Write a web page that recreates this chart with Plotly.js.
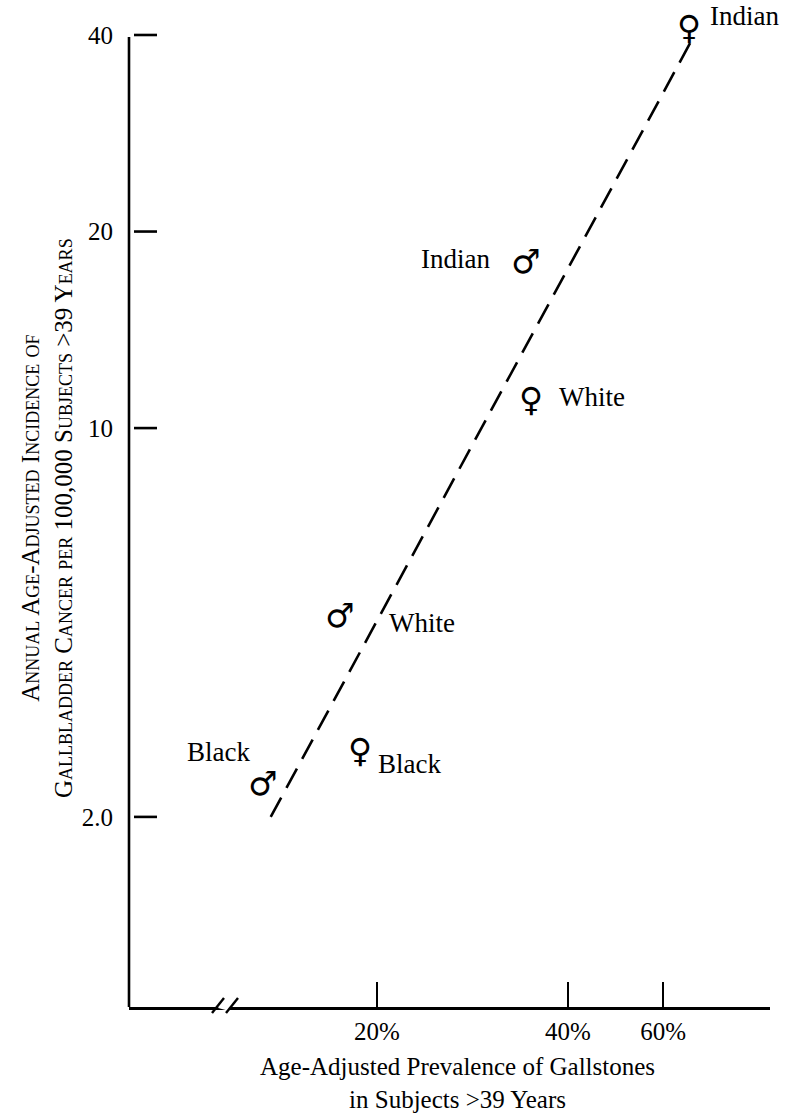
<!DOCTYPE html>
<html>
<head>
<meta charset="utf-8">
<script src="https://cdn.plot.ly/plotly-3.0.1.min.js"></script>
<style>html,body{margin:0;padding:0;background:#fff;}#chart{width:792px;height:1116px;}</style>
</head>
<body>
<div id="chart"></div>
<script>
// ---- data ----
const groups = ['Indian', 'Indian', 'White', 'White', 'Black', 'Black'];
const sexes = ['F', 'M', 'F', 'M', 'F', 'M'];
const prevalence = [67, 34, 35, 17.3, 18.8, 13.1];      // % with gallstones
const incidence = [42, 18, 11.3, 4.6, 2.7, 2.3];        // per 100,000
const fitPrevalence = [13.6, 68];
const fitIncidence = [2.0, 39.5];
const xTickVals = [20, 40, 60];
const xTickText = ['20%', '40%', '60%'];
const yTickVals = [2, 10, 20, 40];
const yTickText = ['2.0', '10', '20', '40'];

// ---- the figure's hand-drawn log scales (compressed beyond 40% and below 10) ----
const K = 0.852;
function tx(v) { const a = Math.log10(40), l = Math.log10(v); return l <= a ? l : a + K * (l - a); }
function ty(v) { const l = Math.log10(v); return l >= 1 ? l : 1 - K * (1 - l); }

const FONT = '"Liberation Serif", "Times New Roman", serif';
const GLYPH = '"DejaVu Sans", sans-serif';
const symbolOf = s => (s === 'F' ? '\u2640' : '\u2642');

// label placement (pixels, styling only)
const labelStyle = [
  {xshift: 19, yshift: 5, xanchor: 'left'},
  {xshift: -31, yshift: 2, xanchor: 'right'},
  {xshift: 26, yshift: -4, xanchor: 'left'},
  {xshift: 50, yshift: -7, xanchor: 'left'},
  {xshift: 16, yshift: -20, xanchor: 'left'},
  {xshift: -8, yshift: 31, xanchor: 'right'}
];
// glyph offsets so that the ring of the symbol sits on the point
const glyphShift = {F: {x: 0, y: -6}, M: {x: 3, y: 0}};

const yTop = ty(40) + 35 / 653;
const yBottom = 1 - 579 / 653;

const traces = [
  {
    x: fitPrevalence.map(tx), y: fitIncidence.map(ty),
    mode: 'lines', type: 'scatter', hoverinfo: 'skip',
    line: {color: '#000', width: 2.6, dash: '22px,11px'}
  }
];

const annotations = [];
groups.forEach((g, i) => {
  annotations.push({
    x: tx(prevalence[i]), y: ty(incidence[i]), xref: 'x', yref: 'y',
    text: symbolOf(sexes[i]), showarrow: false,
    xanchor: 'center', yanchor: 'middle',
    xshift: glyphShift[sexes[i]].x, yshift: glyphShift[sexes[i]].y,
    font: {family: GLYPH, size: 33, color: '#000'}
  });
  annotations.push({
    x: tx(prevalence[i]), y: ty(incidence[i]), xref: 'x', yref: 'y',
    text: g, showarrow: false,
    xanchor: labelStyle[i].xanchor, yanchor: 'middle',
    xshift: labelStyle[i].xshift, yshift: labelStyle[i].yshift,
    font: {family: FONT, size: 27, color: '#000'}
  });
});

annotations.push({
  xref: 'paper', yref: 'paper', x: 0, y: (1007 - 518) / 1007, xshift: -82,
  xanchor: 'center', yanchor: 'middle', textangle: -90, showarrow: false,
  text: 'Annual Age-Adjusted Incidence of<br>Gallbladder Cancer per 100,000 Subjects &gt;39 Years',
  font: {family: FONT, size: 25, color: '#000', variant: 'small-caps'}
});
annotations.push({
  xref: 'paper', yref: 'paper', x: 0.513, y: 0, yshift: -44,
  xanchor: 'center', yanchor: 'top', showarrow: false,
  text: 'Age-Adjusted Prevalence of Gallstones<br>in Subjects &gt;39 Years',
  font: {family: FONT, size: 25, color: '#000'}
});

// y axis line (from the bottom up to the top tick) and its short ticks
const shapes = [{
  type: 'line', xref: 'paper', yref: 'y', x0: 0, x1: 0, y0: yBottom, y1: ty(yTickVals[yTickVals.length - 1]) - 2 / 653,
  line: {color: '#000', width: 2.6}
}];
yTickVals.forEach(v => shapes.push({
  type: 'line', xref: 'paper', yref: 'y',
  x0: 5 / 641, x1: 28 / 641, y0: ty(v), y1: ty(v),
  line: {color: '#000', width: 2.6}
}));
// axis break marks
shapes.push({type: 'line', xref: 'paper', yref: 'paper', xsizemode: 'pixel', ysizemode: 'pixel',
  xanchor: 0, yanchor: 0, x0: 90, x1: 101, y0: 2, y1: -1, line: {color: '#fff', width: 6}});
shapes.push({type: 'line', xref: 'paper', yref: 'paper', xsizemode: 'pixel', ysizemode: 'pixel',
  xanchor: 0, yanchor: 0, x0: 83, x1: 95, y0: -6, y1: 9, line: {color: '#000', width: 2.4}});
shapes.push({type: 'line', xref: 'paper', yref: 'paper', xsizemode: 'pixel', ysizemode: 'pixel',
  xanchor: 0, yanchor: 0, x0: 97, x1: 109, y0: -6, y1: 9, line: {color: '#000', width: 2.4}});

const layout = {
  width: 792, height: 1116,
  margin: {l: 129, r: 22, t: 0, b: 109},
  paper_bgcolor: '#fff', plot_bgcolor: '#fff',
  showlegend: false,
  xaxis: {
    range: [tx(40) - 439 / 634.5, tx(40) + 202 / 634.5],
    tickvals: xTickVals.map(tx), ticktext: xTickText,
    ticks: 'inside', ticklen: 25, tickwidth: 2.4, tickcolor: '#000',
    showline: true, linecolor: '#000', linewidth: 2.8,
    showgrid: false, zeroline: false,
    tickfont: {family: FONT, size: 25, color: '#000'},
    ticklabelstandoff: 0
  },
  yaxis: {
    range: [yBottom, yTop],
    tickvals: yTickVals.map(ty), ticktext: yTickText,
    ticks: '', showline: false,
    showgrid: false, zeroline: false,
    tickfont: {family: FONT, size: 25, color: '#000'},
    ticklabelstandoff: 15
  },
  annotations: annotations,
  shapes: shapes
};

Plotly.newPlot('chart', traces, layout, {displayModeBar: false, staticPlot: true});
</script>
</body>
</html>
